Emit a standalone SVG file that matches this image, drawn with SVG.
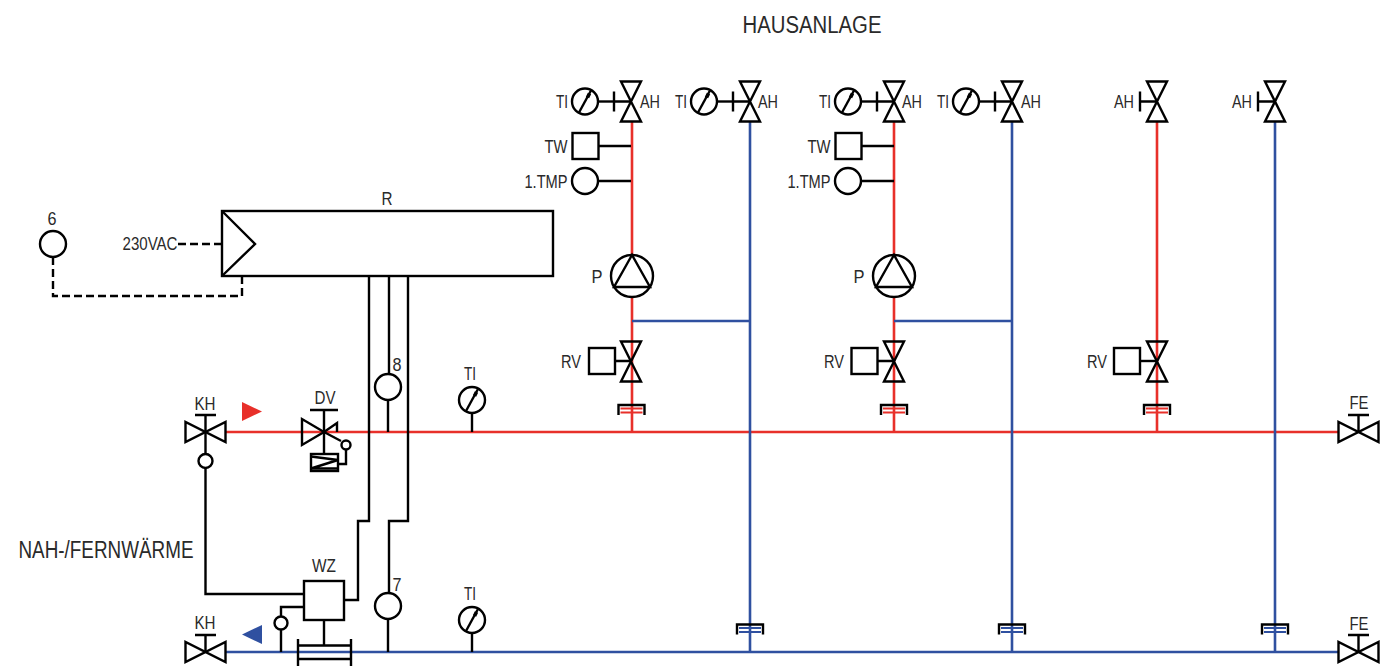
<svg xmlns="http://www.w3.org/2000/svg" xmlns:xlink="http://www.w3.org/1999/xlink" width="1382" height="666" viewBox="0 0 1382 666">
<style>
text{font-family:"Liberation Sans",Arial,sans-serif;font-size:18px;fill:#2a2a2a;text-anchor:middle}
.big{font-size:23px}
.s{fill:none;stroke:#000;stroke-width:2.4}
.w{fill:#fff;stroke:#000;stroke-width:2.4}
.k{fill:none;stroke:#000;stroke-width:2.4}
.d{fill:none;stroke:#000;stroke-width:2.4;stroke-dasharray:8 4}
.r{fill:none;stroke:#e8302a;stroke-width:2.6}
.b{fill:none;stroke:#2f50a0;stroke-width:2.6}
.rt{fill:none;stroke:#e8302a;stroke-width:1.8}
.bt{fill:none;stroke:#2f50a0;stroke-width:1.8}
</style>
<defs>
<g id="vv"><path class="s" d="M-10-20H10L-10 20H10Z"/></g>
<g id="ah-l"><use xlink:href="#vv"/><path class="s" d="M0 0H-17M-17-10V10"/></g>
<g id="vh"><path class="s" d="M-20-10V10L20-10V10Z"/><path class="s" d="M0 0V-17M-10.500-17H10.500"/></g>
<g id="gauge"><circle class="s" r="13"/><path class="s" d="M-6 11L6-11"/><path d="M2.500-4L4.500-8" stroke="#000" stroke-width="3.600" fill="none"/></g>
<g id="pump"><circle class="w" r="21"/><path class="s" d="M0-21L-18 11H18Z"/></g>
<g id="expr"><path class="s" d="M-13 10V0H13V10"/><path class="rt" d="M-11 3.500H11M-11 7.500H11"/></g>
<g id="expb"><path class="s" d="M-13 10V0H13V10"/><path class="bt" d="M-11 3.500H11M-11 7.500H11"/></g>
</defs>

<g id="connectors">
<path class="r" d="M226 432H1338M632 121V432M894 121V432M1157 121V432"/>
<path class="b" d="M226 652H1338M750 121V652M1012 121V652M1275 121V652M632 321H750M894 321H1012"/>
<path class="k" d="M205.500 432V454M205.500 468V594H304"/>
<path class="k" d="M304 607H281V616M281 630V652"/>
<path class="k" d="M369 276V521H358V600H344"/>
<path class="k" d="M389 276V374M388 400V432"/>
<path class="k" d="M408 276V521H389V594M388 619V652"/>
<path class="k" d="M472 413V432M472 633V652"/>
<path class="k" d="M324 620V645"/>
<path class="k" d="M599 146H631M598 181H631M615 361H631"/>
<path class="k" d="M862 146H894M861 181H894M878 361H894"/>
<path class="k" d="M1141 361H1157"/>
<path class="d" d="M178 244H222"/>
<path class="d" d="M53 257V296H242V276"/>
</g>

<g id="title"><text class="big" x="812" y="33" textLength="139" lengthAdjust="spacingAndGlyphs">HAUSANLAGE</text></g>
<g id="district"><text class="big" x="106" y="558" textLength="175" lengthAdjust="spacingAndGlyphs">NAH-/FERNWÄRME</text></g>

<g id="controller-R">
<rect class="w" x="222" y="211" width="331" height="65"/>
<path class="s" d="M222 211L255 244L222 276"/>
<text x="387" y="205" textLength="11" lengthAdjust="spacingAndGlyphs">R</text>
<text x="150" y="250" textLength="55" lengthAdjust="spacingAndGlyphs">230VAC</text>
</g>
<g id="sensor-6"><circle class="s" cx="53" cy="244" r="13"/><text x="52" y="225" textLength="9" lengthAdjust="spacingAndGlyphs">6</text></g>
<g id="sensor-8"><circle class="s" cx="388" cy="387" r="13"/><text x="397" y="371" textLength="9" lengthAdjust="spacingAndGlyphs">8</text></g>
<g id="sensor-7"><circle class="s" cx="388" cy="606" r="13"/><text x="397" y="591" textLength="9" lengthAdjust="spacingAndGlyphs">7</text></g>

<g id="flow-hot"><path d="M242 402L262 411.500L242 421Z" fill="#e8302a"/></g>
<g id="flow-cold"><path d="M262 625V644L242 634.500Z" fill="#2f50a0"/></g>

<g id="kh-top"><use xlink:href="#vh" transform="translate(205.500 432)"/><circle class="s" cx="205.500" cy="461" r="7"/><text x="205" y="410" textLength="21" lengthAdjust="spacingAndGlyphs">KH</text></g>
<g id="kh-bottom"><use xlink:href="#vh" transform="translate(205.500 652)"/><text x="205" y="629" textLength="21" lengthAdjust="spacingAndGlyphs">KH</text></g>

<g id="dv">
<path class="s" d="M324 432L302 419V445L324 432L337 423V432"/>
<path class="k" d="M324 410V454M310 410H338M324 432L341 441"/>
<circle class="s" cx="346" cy="445" r="4.500"/>
<path class="k" d="M346 449.500V464H338"/>
<rect class="s" x="311" y="454" width="27" height="17"/>
<path class="k" d="M311 456.500L338 460L311 468.500H338" stroke-width="1.800"/>
<text x="325" y="404" textLength="21" lengthAdjust="spacingAndGlyphs">DV</text>
</g>

<g id="wz">
<rect class="s" x="304" y="581" width="40" height="39"/>
<circle class="s" cx="281" cy="623" r="6.500"/>
<path class="k" d="M298 639V666M351 639V666M298 645.500H351M298 659H351"/>
<text x="324" y="572" textLength="24" lengthAdjust="spacingAndGlyphs">WZ</text>
</g>

<g id="ti-hot"><use xlink:href="#gauge" transform="translate(472 400)"/><text x="470" y="380" textLength="12" lengthAdjust="spacingAndGlyphs">TI</text></g>
<g id="ti-cold"><use xlink:href="#gauge" transform="translate(472 620)"/><text x="470" y="600" textLength="12" lengthAdjust="spacingAndGlyphs">TI</text></g>

<g id="ah-1"><use xlink:href="#ah-l" transform="translate(631 101.500)"/><path class="k" d="M598 101.500H614"/><use xlink:href="#gauge" transform="translate(585 101.500)"/><text x="562" y="108" textLength="12" lengthAdjust="spacingAndGlyphs">TI</text><text x="650" y="108" textLength="20" lengthAdjust="spacingAndGlyphs">AH</text></g>
<g id="ah-2"><use xlink:href="#ah-l" transform="translate(750 101.500)"/><path class="k" d="M717 101.500H733"/><use xlink:href="#gauge" transform="translate(704 101.500)"/><text x="681" y="108" textLength="12" lengthAdjust="spacingAndGlyphs">TI</text><text x="768" y="108" textLength="20" lengthAdjust="spacingAndGlyphs">AH</text></g>
<g id="ah-3"><use xlink:href="#ah-l" transform="translate(894 101.500)"/><path class="k" d="M861 101.500H877"/><use xlink:href="#gauge" transform="translate(848 101.500)"/><text x="825" y="108" textLength="12" lengthAdjust="spacingAndGlyphs">TI</text><text x="912" y="108" textLength="20" lengthAdjust="spacingAndGlyphs">AH</text></g>
<g id="ah-4"><use xlink:href="#ah-l" transform="translate(1012 101.500)"/><path class="k" d="M979 101.500H995"/><use xlink:href="#gauge" transform="translate(966 101.500)"/><text x="943" y="108" textLength="12" lengthAdjust="spacingAndGlyphs">TI</text><text x="1031" y="108" textLength="20" lengthAdjust="spacingAndGlyphs">AH</text></g>
<g id="ah-5"><use xlink:href="#ah-l" transform="translate(1157 101.500)"/><text x="1124" y="108" textLength="20" lengthAdjust="spacingAndGlyphs">AH</text></g>
<g id="ah-6"><use xlink:href="#ah-l" transform="translate(1275 101.500)"/><text x="1242" y="108" textLength="20" lengthAdjust="spacingAndGlyphs">AH</text></g>

<g id="tw-1"><rect class="s" x="572.500" y="133" width="26" height="26"/><text x="556" y="153" textLength="23" lengthAdjust="spacingAndGlyphs">TW</text></g>
<g id="tmp-1"><circle class="s" cx="585" cy="181" r="13"/><text x="546" y="188" textLength="43" lengthAdjust="spacingAndGlyphs">1.TMP</text></g>
<g id="tw-2"><rect class="s" x="835.500" y="133" width="26" height="26"/><text x="819" y="153" textLength="23" lengthAdjust="spacingAndGlyphs">TW</text></g>
<g id="tmp-2"><circle class="s" cx="848" cy="181" r="13"/><text x="809" y="188" textLength="43" lengthAdjust="spacingAndGlyphs">1.TMP</text></g>

<g id="pump-1"><use xlink:href="#pump" transform="translate(632 276)"/><text x="597" y="283" textLength="11" lengthAdjust="spacingAndGlyphs">P</text></g>
<g id="pump-2"><use xlink:href="#pump" transform="translate(894 276)"/><text x="859" y="283" textLength="11" lengthAdjust="spacingAndGlyphs">P</text></g>

<g id="rv-1"><use xlink:href="#vv" transform="translate(631 361.500)"/><rect class="s" x="589" y="348" width="26" height="26"/><text x="571" y="368" textLength="20" lengthAdjust="spacingAndGlyphs">RV</text></g>
<g id="rv-2"><use xlink:href="#vv" transform="translate(894 361.500)"/><rect class="s" x="851.500" y="348" width="26" height="26"/><text x="834" y="368" textLength="20" lengthAdjust="spacingAndGlyphs">RV</text></g>
<g id="rv-3"><use xlink:href="#vv" transform="translate(1157 361.500)"/><rect class="s" x="1114" y="348" width="26" height="26"/><text x="1097" y="368" textLength="20" lengthAdjust="spacingAndGlyphs">RV</text></g>

<g id="exp-r1"><use xlink:href="#expr" transform="translate(631.500 405)"/></g>
<g id="exp-r2"><use xlink:href="#expr" transform="translate(894 405)"/></g>
<g id="exp-r3"><use xlink:href="#expr" transform="translate(1157 405)"/></g>
<g id="exp-b1"><use xlink:href="#expb" transform="translate(750 624.500)"/></g>
<g id="exp-b2"><use xlink:href="#expb" transform="translate(1012 624.500)"/></g>
<g id="exp-b3"><use xlink:href="#expb" transform="translate(1275 624.500)"/></g>

<g id="fe-top"><use xlink:href="#vh" transform="translate(1358.500 432)"/><text x="1359" y="409" textLength="19" lengthAdjust="spacingAndGlyphs">FE</text></g>
<g id="fe-bottom"><use xlink:href="#vh" transform="translate(1358.500 652)"/><text x="1359" y="630" textLength="19" lengthAdjust="spacingAndGlyphs">FE</text></g>
</svg>
